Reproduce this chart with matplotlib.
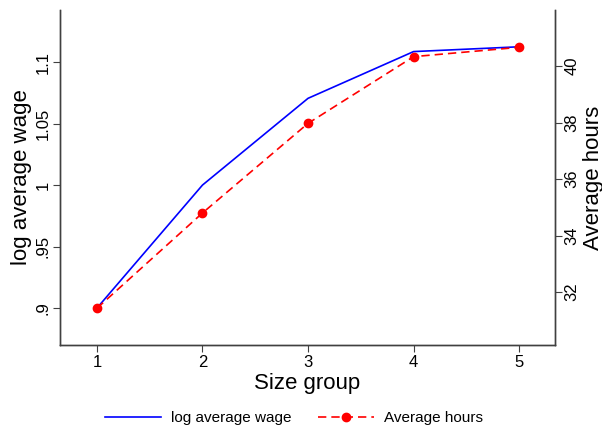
import matplotlib
matplotlib.use("Agg")
import matplotlib.pyplot as plt

plt.rcParams['font.family'] = ['Liberation Sans', 'DejaVu Sans']

size_group = [1, 2, 3, 4, 5]
log_wage = [0.900, 1.000, 1.0705, 1.1085, 1.1124]
avg_hours = [31.43, 34.80, 37.97, 40.33, 40.66]
left_ticks = [0.9, 0.95, 1.0, 1.05, 1.1]
left_labels = ['.9', '.95', '1', '1.05', '1.1']
right_ticks = [32, 34, 36, 38, 40]

fig = plt.figure(figsize=(6.02, 4.26), dpi=100)
ax = fig.add_axes([60/602, 1 - 345/426, 495/602, 335/426])
ax2 = ax.twinx()

l1, = ax.plot(size_group, log_wage, color='blue', lw=1.2, label='log average wage')
l2, = ax2.plot(size_group, avg_hours, color='red', lw=1.2, ls=(0, (5, 3)),
               marker='o', ms=6, label='Average hours')

ax.set_xlim(0.65, 5.34)
ax.set_ylim(0.870, 1.1423)
ax2.set_ylim(30.13, 41.98)

ax.set_xticks(size_group)
ax.set_yticks(left_ticks)
ax.set_yticklabels(left_labels, rotation=90, va='center')
ax2.set_yticks(right_ticks)
ax2.set_yticklabels([str(t) for t in right_ticks], rotation=90, va='center')

for a in (ax, ax2):
    a.spines['top'].set_visible(False)
    for s in ('left', 'right', 'bottom'):
        a.spines[s].set_color('#404040')
        a.spines[s].set_linewidth(1.0)
    a.tick_params(direction='out', length=5, width=0.8, color='#404040',
                  labelsize=12, pad=2)

ax.set_xlabel('Size group', fontsize=16, labelpad=2)
ax.set_ylabel('log average wage', fontsize=16, labelpad=2)
ax2.set_ylabel('Average hours', fontsize=16, labelpad=2)

fig.legend(handles=[l1, l2], loc='center', bbox_to_anchor=(0.488, 1 - 418/426),
           ncol=2, frameon=False, fontsize=11, handlelength=3.7, columnspacing=1.7,
           handletextpad=0.65)

fig.savefig('out.png', dpi=100)
